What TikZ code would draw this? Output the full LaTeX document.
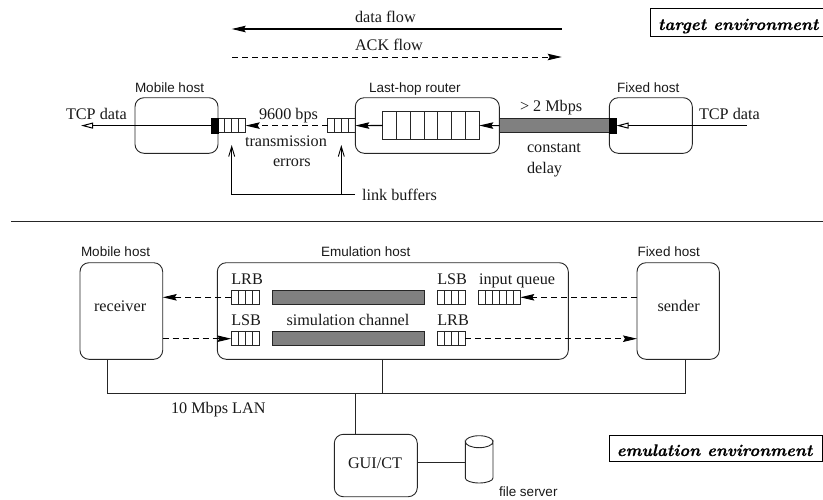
\documentclass[tikz,border=0pt]{standalone}
\usepackage{fontspec}
\setmainfont{Liberation Serif}
\setsansfont{Liberation Sans}
\newfontfamily\envfont{lmroman10-bolditalic.otf}[FakeBold=0.6]
\usetikzlibrary{arrows.meta,calc}
\newcommand{\qbox}[6]{% name, x1, y1, x2, y2, cells
  \node[qcell, minimum width=#4pt-#2pt, minimum height=#5pt-#3pt] (#1) at ({(#2+#4)/2},{(#3+#5)/2}) {};
  \pgfmathtruncatemacro{\qlast}{#6-1}
  \foreach \qi in {1,...,\qlast}{
    \draw[thinline] ($(#1.north west)!\qi/#6!(#1.north east)$) -- ($(#1.south west)!\qi/#6!(#1.south east)$);
  }
}
\tikzset{
  thinline/.style={line width=0.9pt,draw=black!85},
  hostbox/.style={draw=black!85,line width=0.9pt,rounded corners=9pt,inner sep=0pt,outer sep=0pt,fill=none},
  qcell/.style={draw=black!85,line width=0.9pt,inner sep=0pt,outer sep=0pt},
  blackblock/.style={fill=black,draw=black,line width=0.4pt,inner sep=0pt,outer sep=0pt},
  greybar/.style={fill=black!50,draw=black!85,line width=0.9pt,inner sep=0pt,outer sep=0pt},
  envbox/.style={draw=black,line width=0.9pt,inner sep=0pt,outer sep=0pt},
  rm/.style={font=\fontsize{16.2}{18}\selectfont,inner sep=0pt,outer sep=0pt,anchor=base west,text=black!90},
  ss/.style={font=\sffamily\fontsize{13.5}{15}\selectfont,inner sep=0pt,outer sep=0pt,anchor=base west,text=black!90},
  envtext/.style={font=\envfont\fontsize{16.8}{18}\selectfont,inner sep=0pt,outer sep=0pt,anchor=base west},
  solidarrow/.style={line width=1.1pt,draw=black,-{Stealth[length=14pt,width=6.5pt,inset=2pt,fill=black]}},
  dashedarrow/.style={line width=0.95pt,draw=black,dash pattern=on 6pt off 4pt,-{Stealth[length=14pt,width=6.5pt,inset=2pt,fill=black]}},
  openarrow/.style={line width=1pt,draw=black,-{Stealth[length=12pt,width=6pt,inset=0pt,open,fill=white]}},
  barbarrow/.style={line width=0.9pt,draw=black,-{Straight Barb[length=10pt,width=6pt]}},
}
\begin{document}
\begin{tikzpicture}[x=1pt,y=-1pt]
\useasboundingbox (0,0) rectangle (823,499);
% top legend
\coordinate (dfR) at (561.7,29); \coordinate (dfL) at (231.7,29);
\coordinate (akL) at (232,57); \coordinate (akR) at (561.7,57);
\draw[solidarrow] (dfR) -- (dfL);
\draw[dashedarrow] (akL) -- (akR);
\node[rm] (tdf) at (355,22.7) {data flow};
\node[rm] (tak) at (355,50) {ACK flow};
\node[envbox,minimum width=172.6pt,minimum height=27.6pt] (tenv) at (737,22.5) {};
\node[envtext] (tenvt) at (658,30) {target environment};
% target boxes
\node[hostbox,minimum width=83pt,minimum height=55.6pt] (mob) at (176.5,125.5) {};
\node[hostbox,minimum width=144pt,minimum height=55.6pt] (rtr) at (427.3,125.5) {};
\node[hostbox,minimum width=83pt,minimum height=55.6pt] (fix) at (650.8,125.5) {};
\node[ss] (tm) at (135,92) {Mobile host};
\node[ss] (tr) at (369,92) {Last-hop router};
\node[ss] (tf) at (617,92) {Fixed host};
\node[rm] (td1) at (66,119) {TCP data};
\node[rm] (td2) at (699,119) {TCP data};
\node[rm] (t96) at (259,119) {9600 bps};
\node[rm] (ttr) at (245,146) {transmission};
\node[rm] (ter) at (273,166.7) {errors};
\node[rm] (tlb) at (362,200.7) {link buffers};
\node[rm] (t2m) at (520,111.7) {> 2 Mbps};
\node[rm] (tco) at (527,152.7) {constant};
\node[rm] (tde) at (527,173.3) {delay};
% queues
\qbox{q1}{218}{118.5}{245.7}{132.7}{4}
\qbox{q2}{327.7}{118.5}{355.3}{132.7}{4}
\qbox{q3}{382.7}{111.7}{479.3}{139.3}{7}
\node[greybar,minimum width=110pt,minimum height=14.2pt] (bar) at (554.3,125.6) {};
\node[blackblock,minimum width=7pt,minimum height=14.2pt] (blk1) at (214.5,125.6) {};
\node[blackblock,minimum width=7pt,minimum height=14.2pt] (blk2) at (613,125.6) {};
% target connectors
\coordinate (tcpL) at (81,125.6); \coordinate (tcpR) at (746.7,125.6);
\draw[openarrow] (blk1.west) -- (tcpL);
\draw[openarrow] (tcpR) -- (blk2.east);
\draw[dashedarrow] (q2.west) -- (q1.east);
\draw[solidarrow] (q3.west) -- (q2.east);
\draw[solidarrow] (bar.west) -- (q3.east);
\coordinate (lbA) at (231.7,145); \coordinate (lbB) at (341.3,145);
\coordinate (lbJ) at (341.3,194.4); \coordinate (lbE) at (355,194.4); \coordinate (lbC) at (231.7,194.4);
\draw[barbarrow] (lbE) -- (lbC) -- (lbA);
\draw[barbarrow] (lbJ) -- (lbB);
% separator
\coordinate (sepL) at (11,221.7); \coordinate (sepR) at (823,221.7);
\draw[line width=1.2pt,draw=black!85] (sepL) -- (sepR);
% lower boxes
\node[hostbox,minimum width=82.7pt,minimum height=96.6pt] (rcv) at (121.35,311) {};
\node[hostbox,minimum width=351pt,minimum height=96.6pt] (emu) at (392.8,311) {};
\node[hostbox,minimum width=82.3pt,minimum height=96.6pt] (snd) at (678.15,311) {};
\node[ss] (bm) at (81,256.7) {Mobile host};
\node[ss] (be) at (321,256.7) {Emulation host};
\node[ss] (bf) at (637.5,256.7) {Fixed host};
\node[rm] (rc) at (94,311) {receiver};
\node[rm] (se) at (657.5,311) {sender};
\node[rm] (l1) at (231.3,284) {LRB};
\node[rm] (l2) at (231.3,325.7) {LSB};
\node[rm] (l3) at (437.3,284) {LSB};
\node[rm] (l4) at (437.3,325.7) {LRB};
\node[rm] (iq) at (479,284) {input queue};
\node[rm] (sc) at (286.5,325.7) {simulation channel};
\qbox{a1}{231.3}{290.3}{259}{304.3}{4}
\qbox{a2}{231.3}{331.7}{259}{345.7}{4}
\qbox{a3}{437.3}{290.3}{465.3}{304.3}{4}
\qbox{a4}{437.3}{331.7}{465.3}{345.7}{4}
\qbox{a5}{478.7}{290.3}{520.3}{304.3}{6}
\node[greybar,minimum width=151.7pt,minimum height=14pt] (b1) at (348.15,297.3) {};
\node[greybar,minimum width=151.7pt,minimum height=14pt] (b2) at (348.15,338.7) {};
\draw[dashedarrow] (a1.west) -- (rcv.east |- a1.west);
\draw[dashedarrow] (rcv.east |- a2.west) -- (a2.west);
\draw[dashedarrow] (snd.west |- a5.east) -- (a5.east);
\draw[dashedarrow] (a4.east) -- (snd.west |- a4.east);
% LAN
\coordinate (lanL) at (107.7,393.3); \coordinate (lanM) at (382.3,393.3); \coordinate (lanR) at (685.3,393.3); \coordinate (lanG) at (355,393.3);
\draw[thinline] (lanL |- rcv.south) -- (lanL) -- (lanR) -- (lanR |- snd.south);
\draw[thinline] (lanM |- emu.south) -- (lanM);
\node[rm] (lant) at (171,413.3) {10 Mbps LAN};
\node[hostbox,minimum width=83pt,minimum height=62.4pt] (gui) at (375.8,465.5) {};
\node[rm] (guit) at (348,468.7) {GUI/CT};
\draw[thinline] (lanG) -- (lanG |- gui.north);
% file server
\coordinate (cyl) at (465.3,462);
\draw[thinline] (465.3,441.7) arc[start angle=180,end angle=360,x radius=13.85pt,y radius=6pt] -- (493,478) arc[start angle=0,end angle=-180,x radius=13.85pt,y radius=5pt] -- cycle;
\draw[thinline] (465.3,441.7) arc[start angle=180,end angle=0,x radius=13.85pt,y radius=6pt];
\draw[thinline] (gui.east |- cyl) -- (cyl);
\node[ss] (fs) at (499,496.7) {file server};
% emulation env
\node[envbox,minimum width=213pt,minimum height=26.7pt] (eenv) at (715.8,448.35) {};
\node[envtext] (eenvt) at (616.7,456) {emulation environment};
\end{tikzpicture}
\end{document}
